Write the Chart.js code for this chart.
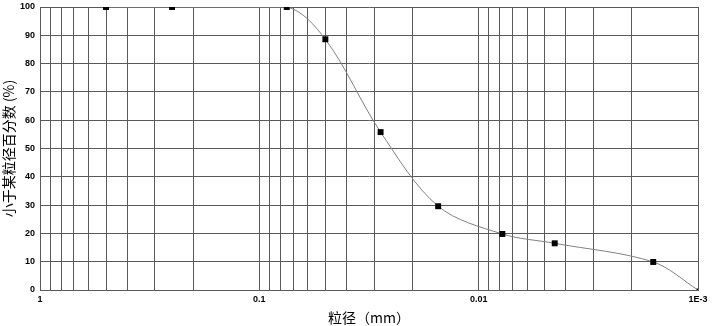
<!DOCTYPE html>
<html>
<head>
<meta charset="utf-8">
<script src="https://cdn.jsdelivr.net/npm/chart.js@4/dist/chart.umd.min.js"></script>
<style>
  body { margin: 0; background: #fff; }
  canvas { display: block; }
</style>
</head>
<body>
<canvas id="grading" width="713" height="326"></canvas>
<script>
// particle sizes (mm) and percent finer
const sizes = [0.5, 0.25, 0.075, 0.05, 0.028, 0.0153, 0.0078, 0.0045, 0.0016, 0.001];
const percents = [100, 100, 100, 88.6, 55.8, 29.6, 19.8, 16.5, 9.9, 0];

const decadeTicks = [1, 0.1, 0.01, 0.001];
const decadeLabels = ['1', '0.1', '0.01', '1E-3'];

// log grid lines: 1, 0.9 ... 0.2, 0.1, 0.09 ... 0.001
const gridValues = [];
for (let d = 0; d < 3; d++) {
    const base = decadeTicks[d];
    gridValues.push(base);
    for (let m = 9; m >= 2; m--) gridValues.push(base * m / 10);
}
gridValues.push(0.001);

const points = sizes.map((s, i) => ({ x: s, y: percents[i] }));

const tickFont = { family: 'Liberation Sans', size: 9, weight: 'bold' };
const cjkFont = { family: "'Noto Sans CJK SC'", size: 14 };
const gridColor = '#5a5a5a';

new Chart(document.getElementById('grading'), {
    type: 'scatter',
    data: {
        datasets: [{
            data: points,
            showLine: true,
            borderColor: '#808080',
            borderWidth: 1,
            tension: 0.33,
            pointStyle: 'rect',
            pointRadius: ctx => ctx.dataIndex === sizes.length - 1 ? 2 : 4.2,
            pointBackgroundColor: '#000',
            pointBorderColor: '#000',
            pointBorderWidth: 0
        }]
    },
    options: {
        responsive: false,
        animation: false,
        devicePixelRatio: 1,
        layout: { padding: { top: 7, right: 15, left: 0, bottom: 0 } },
        plugins: { legend: { display: false }, tooltip: { enabled: false } },
        scales: {
            x: {
                type: 'logarithmic',
                reverse: true,
                min: 0.001,
                max: 1,
                afterBuildTicks: scale => {
                    scale.ticks = gridValues.map(v => ({ value: v }));
                },
                afterFit: scale => {
                    scale.height = 36;
                    scale.paddingLeft = 0;
                    scale.paddingRight = 0;
                },
                grid: { color: gridColor, drawTicks: false },
                border: { color: gridColor },
                ticks: {
                    autoSkip: false,
                    maxRotation: 0,
                    padding: 4,
                    color: '#000',
                    font: tickFont,
                    callback: v => {
                        const i = decadeTicks.findIndex(t => Math.abs(t - v) < t * 1e-6);
                        return i >= 0 ? decadeLabels[i] : '';
                    }
                },
                title: {
                    display: true,
                    text: '粒径（mm）',
                    color: '#000',
                    font: cjkFont,
                    padding: { top: 0, bottom: 0 }
                }
            },
            y: {
                min: 0,
                max: 100,
                afterFit: scale => {
                    scale.width = 40;
                    scale.paddingTop = 0;
                    scale.paddingBottom = 0;
                },
                grid: { color: gridColor, drawTicks: false },
                border: { color: gridColor },
                ticks: { stepSize: 10, padding: 5, color: '#000', font: tickFont },
                title: {
                    display: true,
                    text: '小于某粒径百分数 (%)',
                    color: '#000',
                    font: cjkFont,
                    padding: { top: 0, bottom: 0 }
                }
            }
        }
    }
});
</script>
</body>
</html>
